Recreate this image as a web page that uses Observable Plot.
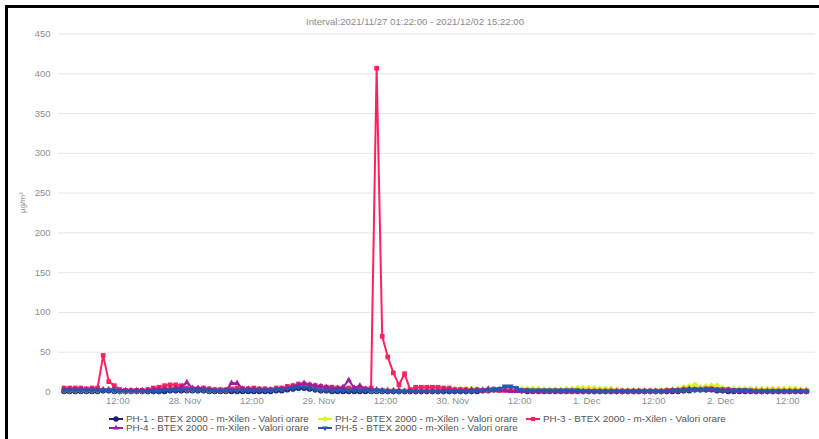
<!DOCTYPE html>
<html>
<head>
<meta charset="utf-8">
<script src="https://cdn.jsdelivr.net/npm/d3@7"></script>
<script src="https://cdn.jsdelivr.net/npm/@observablehq/plot@0.6"></script>
<style>
  html, body { margin: 0; padding: 0; background: #fff; }
  body { width: 819px; height: 439px; position: relative; overflow: hidden; font-family: "Liberation Sans", Arial, sans-serif; }
  #frame { position: absolute; left: 5px; top: 5px; width: 820px; height: 440px; border-top: 3px solid #000; border-left: 3px solid #000; }
  #title { position: absolute; left: 0; width: 830px; top: 16px; text-align: center; font-size: 9.6px; color: #8a8a8a; }
  #chart { position: absolute; left: 0; top: 28px; }
  .leg { position: absolute; font-size: 8.5px; color: #555; white-space: nowrap; height: 10px; line-height: 10px; }
  .leg svg { position: absolute; left: 0; top: 0; }
  .leg span { position: absolute; left: 18px; top: 0; transform: scaleX(1.16); transform-origin: left center; }
</style>
</head>
<body>
<div id="frame"></div>
<div id="title"></div>
<div id="chart"></div>
<div id="legend"></div>
<script>
const titleText = "Interval:2021/11/27 01:22:00 - 2021/12/02 15:22:00";
const yLabel = "µg/m³";
const seriesNames = [
  "PH-1 - BTEX 2000 - m-Xilen - Valori orare",
  "PH-2 - BTEX 2000 - m-Xilen - Valori orare",
  "PH-3 - BTEX 2000 - m-Xilen - Valori orare",
  "PH-4 - BTEX 2000 - m-Xilen - Valori orare",
  "PH-5 - BTEX 2000 - m-Xilen - Valori orare"
];
const seriesColors = ["#1b1f6e", "#d6f51a", "#ff2060", "#9c1fa0", "#2458b0"];
const seriesSymbols = ["circle", "diamond2", "square2", "triangle2", "triangle2"];
const seriesRotate = [0, 0, 0, 0, 180];

// hourly values, first point 2021-11-27 02:22, last 2021-12-02 15:22 (134 points)
const ph1 = [
  1,1,1,1,1,1,1,2,2,1,
  1,1,1,1,1,1,1,1,1,2,
  2,2,2,2,2,2,1,1,1,1,
  1,1,1,1,1,1,1,1,2,2,
  3,4,5,5,4,3,2,2,1,1,
  1,1,1,1,1,1,1,1,1,1,
  1,1,1,1,1,1,1,1,1,1,
  1,1,1,1,1,2,2,3,3,5,
  5,4,2,1,1,1,1,1,1,1,
  1,1,1,1,1,1,1,1,1,1,
  1,1,1,1,1,1,1,1,1,1,
  1,2,2,3,3,3,3,2,2,1,
  1,1,1,1,1,1,1,1,1,1,
  1,1,1,1
];
const ph2 = [
  2,2,2,2,2,2,2,3,3,2,
  1,1,1,1,1,2,3,4,5,6,
  5,4,3,3,3,3,2,2,2,2,
  3,3,3,3,3,3,3,3,4,4,
  6,7,8,8,7,6,4,4,3,3,
  3,3,3,3,3,2,2,2,2,2,
  2,2,2,2,2,3,3,3,3,4,
  4,4,4,4,3,3,3,3,3,3,
  4,4,4,4,4,4,3,3,3,3,
  4,4,5,5,5,5,4,4,4,3,
  2,2,2,2,2,2,2,2,3,3,
  4,6,7,9,6,7,8,8,5,4,
  4,4,4,4,4,4,4,4,4,4,
  4,4,3,3
];
const ph3 = [
  5,5,5,5,4,5,5,46,13,8,
  3,2,2,2,2,3,5,6,8,9,
  9,8,5,4,4,5,4,3,3,3,
  4,5,4,4,5,4,4,3,5,5,
  7,8,10,10,9,8,7,6,6,5,
  5,5,4,4,4,5,407,70,44,24,
  9,23,3,6,6,6,6,6,5,5,
  3,3,3,2,3,2,2,3,2,2,
  2,2,2,2,1,1,1,1,1,1,
  1,1,1,1,1,1,1,1,1,1,
  1,1,1,1,1,1,1,1,2,2,
  2,3,3,3,3,4,4,3,3,3,
  2,2,2,1,1,1,1,1,1,1,
  1,1,1,1
];
const ph4 = [
  3,3,3,3,3,3,3,3,3,3,
  2,2,2,2,2,2,3,3,4,4,
  5,6,12,5,5,4,3,2,2,2,
  11,11,4,4,3,3,3,3,3,4,
  5,7,9,11,9,8,7,6,5,5,
  6,15,5,8,4,3,3,2,2,2,
  2,1,1,1,1,1,1,1,2,2,
  2,2,2,3,2,2,4,2,2,2,
  1,1,1,1,1,1,1,1,1,1,
  1,1,1,1,1,1,1,1,1,1,
  1,1,1,1,1,1,1,1,1,2,
  2,3,4,3,3,3,3,2,2,2,
  1,1,1,1,1,1,1,1,1,1,
  1,1,1,1
];
const ph5 = [
  2,2,2,2,2,2,2,2,2,2,
  1,1,1,1,1,1,1,1,2,2,
  2,2,3,3,2,2,2,2,2,2,
  2,2,2,2,2,2,2,2,3,3,
  4,5,6,6,5,3,2,2,2,2,
  2,2,2,2,2,2,2,2,1,1,
  1,1,1,1,1,1,1,1,1,1,
  1,1,1,1,2,2,3,3,4,7,
  7,5,2,2,2,2,2,2,2,2,
  2,2,2,1,1,1,1,1,1,1,
  1,1,1,1,1,1,1,1,1,2,
  2,2,3,3,3,3,4,3,2,2,
  2,2,2,2,1,1,1,1,1,1,
  1,1,1,1
];
const seriesValues = [ph1, ph2, ph3, ph4, ph5];

const yTicks = [0, 50, 100, 150, 200, 250, 300, 350, 400, 450];
const xTickTimes = [
  Date.UTC(2021,10,27,12), Date.UTC(2021,10,28,0), Date.UTC(2021,10,28,12),
  Date.UTC(2021,10,29,0), Date.UTC(2021,10,29,12), Date.UTC(2021,10,30,0),
  Date.UTC(2021,10,30,12), Date.UTC(2021,11,1,0), Date.UTC(2021,11,1,12),
  Date.UTC(2021,11,2,0), Date.UTC(2021,11,2,12)
];
const xTickLabels = ["12:00","28. Nov","12:00","29. Nov","12:00","30. Nov","12:00","1. Dec","12:00","2. Dec","12:00"];

const firstPoint = Date.UTC(2021,10,27,2,22);
const hour = 3600 * 1000;
const timeOf = (d, i) => new Date(firstPoint + i * hour);

document.getElementById("title").textContent = titleText;

const tickLabelMap = new Map(xTickTimes.map((t, i) => [t, xTickLabels[i]]));

const seriesMarks = seriesValues.flatMap((vals, k) => [
  Plot.lineY(vals, {x: timeOf, y: d => d, stroke: seriesColors[k], strokeWidth: 2}),
  Plot.dot(vals, {x: timeOf, y: d => d, fill: seriesColors[k], stroke: "none", r: 3, symbol: seriesSymbols[k], rotate: seriesRotate[k]})
]);

const chart = Plot.plot({
  width: 819,
  height: 382,
  marginLeft: 58,
  marginRight: 4,
  marginTop: 5.5,
  marginBottom: 18.5,
  style: {fontFamily: '"Liberation Sans", Arial, sans-serif', fontSize: "9px", background: "transparent"},
  x: {type: "utc", domain: [new Date(Date.UTC(2021,10,27,1,22)), new Date(Date.UTC(2021,11,2,17,0))]},
  y: {domain: [0, 450]},
  marks: [
    Plot.gridY(yTicks, {stroke: "#e6e6e6", strokeOpacity: 1}),
    ...seriesMarks,
    Plot.axisY(yTicks, {tickSize: 0, tickPadding: 8, label: null, fill: "#8f8f8f", fontSize: 9.5}),
    Plot.axisX(xTickTimes.map(t => new Date(t)), {tickSize: 0, tickPadding: 5, label: null, fill: "#8f8f8f", fontSize: 9.5, tickFormat: d => tickLabelMap.get(+d)}),
    Plot.text([yLabel], {frameAnchor: "left", dx: -36, rotate: -90, text: d => d, fill: "#8f8f8f", fontSize: 8})
  ]
});
document.getElementById("chart").appendChild(chart);

// legend
const legendPos = [[108, 414], [317, 414], [525, 414], [108, 423], [317, 423]];
const legend = document.getElementById("legend");
seriesNames.forEach((name, k) => {
  const item = document.createElement("div");
  item.className = "leg";
  item.style.left = legendPos[k][0] + "px";
  item.style.top = legendPos[k][1] + "px";
  const svg = d3.create("svg").attr("width", 16).attr("height", 10);
  svg.append("line").attr("x1", 1).attr("x2", 15).attr("y1", 5).attr("y2", 5).attr("stroke", seriesColors[k]).attr("stroke-width", 2);
  const sym = {circle: d3.symbolCircle, diamond2: d3.symbolDiamond2, square2: d3.symbolSquare2, triangle2: d3.symbolTriangle2}[seriesSymbols[k]];
  svg.append("path").attr("d", d3.symbol(sym, 22)()).attr("transform", `translate(8,5) rotate(${seriesRotate[k]})`).attr("fill", seriesColors[k]);
  item.appendChild(svg.node());
  const span = document.createElement("span");
  span.textContent = name;
  item.appendChild(span);
  legend.appendChild(item);
});
</script>
</body>
</html>
